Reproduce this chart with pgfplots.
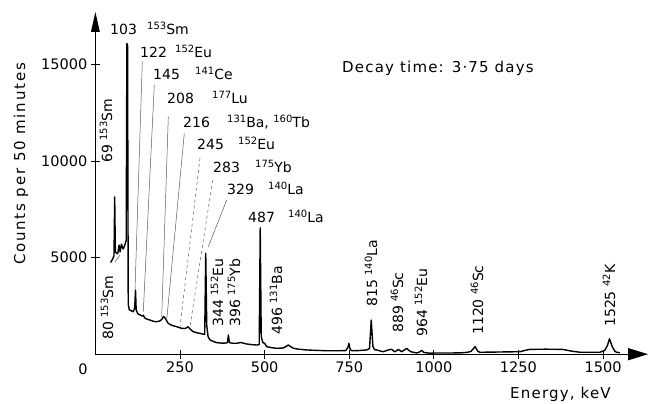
\documentclass[border=0pt]{standalone}
\usepackage{fontspec}
\setmainfont{DejaVu Sans}
\newfontfamily\spaced[LetterSpace=12]{DejaVu Sans}
\newfontfamily\spacedx[LetterSpace=8]{DejaVu Sans}
\usepackage{pgfplots}
\pgfplotsset{compat=1.18}
\usepackage{pgfplotstable}

% gamma spectrum, energy in keV, counts per 50 minutes
\pgfplotstableread{
kev counts
45 4750
50 4900
55 5100
57 8150
59 5300
62 5250
66 5200
70 5650
73 5300
77 5700
82 5450
86 5600
91 5900
93 16100
95 16000
97 2600
100 2300
106 2250
112 2200
116 2400
118.5 3320
120.5 2300
125 2100
132 2030
138 1980
141.5 2020
146 1870
155 1800
161 1770
172 1700
181 1680
190 1720
196 1800
201 1950
205 1900
209 1780
215 1600
225 1500
240 1425
255 1340
265 1330
274 1420
280 1300
289 1165
300 1110
309 1080
318 1040
323 1030
326 5230
329 1500
333 900
339 735
350 650
358 600
375 570
385 580
390 600
393 995
396 600
405 570
417 565
425 590
432 600
440 560
447 530
460 500
477 475
484 500
487 6550
490 900
495 600
500 565
506 390
520 340
536 305
555 320
565 420
570 475
576 400
585 305
600 260
624 220
650 200
683 180
723 180
740 190
746 350
749 565
752 300
756 190
762 180
780 190
802 220
810 300
815 1770
820 400
825 230
831 220
845 150
851 130
862 200
870 240
876 250
882 150
885 130
895 250
905 130
913 220
920 300
926 200
932 130
950 60
958 120
964 200
970 100
974 80
989 50
1000 60
1040 60
1080 70
1100 100
1110 150
1122 390
1130 150
1136 100
1180 110
1255 130
1270 200
1284 250
1330 260
1380 250
1410 150
1432 100
1491 100
1505 200
1513 450
1519 800
1527 400
1535 150
1540 100
1550 80
}\spectrum

\newcommand\pk{\fontsize{14}{16}\selectfont}
\newcommand\iso[1]{\raisebox{5pt}{\fontsize{10}{10}\selectfont #1}}

\begin{document}
\begin{tikzpicture}[x=1pt,y=1pt]
\begin{axis}[
    at={(95.4pt,49.8pt)}, anchor=south west,
    scale only axis, width=553pt, height=342.2pt,
    xmin=0, xmax=1634, ymin=0, ymax=17730,
    axis lines=left,
    axis line style={draw=none},
    xtick={250,500,...,1500},
    ytick={5000,10000,15000},
    scaled y ticks=false,
    tick align=center,
    major tick length=9pt,
    tick style={line width=0.8pt, black},
    ticklabel style={font=\fontsize{14.5}{16}\selectfont},
    /pgf/number format/assume math mode=true,
    /pgf/number format/1000 sep={},
    clip=false,
]
\addplot[black, line width=1.4pt, line join=round] table[x=kev, y=counts]{\spectrum};
\end{axis}

% axis lines with filled arrow heads
\draw[line width=1pt] (95.4,49.8) -- (634,49.8);
\fill (648,49.8) -- (628,56) -- (628,43.6) -- cycle;
\draw[line width=1pt] (95.4,49.8) -- (95.4,378);
\fill (95.4,392) -- (90.9,372) -- (99.9,372) -- cycle;

% axis titles and note
\node[rotate=90, anchor=base, inner sep=0] at (25,240) {\spaced\fontsize{15}{18}\selectfont Counts per 50 minutes};
\node[anchor=base west, inner sep=0] at (510,5) {\spacedx\fontsize{15}{18}\selectfont Energy, keV};
\node[anchor=base west, inner sep=0] at (342,331) {\spacedx\fontsize{15}{18}\selectfont Decay time: 3·75 days};
\node[inner sep=0] at (83,34.5) {\fontsize{14.5}{16}\selectfont 0};

% horizontal peak labels
\begin{scope}[every node/.style={anchor=base west, inner sep=0, font=\pk}]
\node at (110,369) {103}; \node at (147,369) {\iso{153}Sm};
\node at (140,346) {122}; \node at (175,346) {\iso{152}Eu};
\node at (153,324) {145}; \node at (195,324) {\iso{141}Ce};
\node at (167,300) {208}; \node at (212,300) {\iso{177}Lu};
\node at (183,276) {216}; \node at (227,276) {\iso{131}Ba, \iso{160}Tb};
\node at (197,254) {245}; \node at (238,254) {\iso{152}Eu};
\node at (213,231) {283}; \node at (255,231) {\iso{175}Yb};
\node at (227,209) {329}; \node at (268,209) {\iso{140}La};
\node at (248,181) {487}; \node at (288,181) {\iso{140}La};
\end{scope}

% vertical peak labels
\begin{scope}[every node/.style={anchor=base west, inner sep=0, rotate=90, font=\pk}]
\node at (112,241) {69 \iso{153}Sm};
\node at (113,64) {80 \iso{153}Sm};
\node at (223,77) {344 \iso{152}Eu};
\node at (240,77) {396 \iso{175}Yb};
\node at (282,69) {496 \iso{131}Ba};
\node at (377,97) {815 \iso{140}La};
\node at (403,71) {889 \iso{46}Sc};
\node at (427,67) {964 \iso{152}Eu};
\node at (483,69) {1120 \iso{46}Sc};
\node at (615,77) {1525 \iso{42}K};
\end{scope}

% leader lines
\begin{scope}[black!65, line width=0.5pt]
\draw (142.3,342.3) -- (135,114);
\draw (154.3,319) -- (143.3,92.3);
\draw (168.3,287.3) -- (161.7,87.3);
\draw (184.3,270.7) -- (166.7,84);
\draw[dashed] (200,246) -- (180,77.3);
\draw[dashed] (212.7,224) -- (190,77.3);
\draw (226.7,204) -- (208.3,157.3);
\draw (115,142) -- (120,149);
\end{scope}

\pgfresetboundingbox
\path[use as bounding box] (0,0) rectangle (653,404);
\end{tikzpicture}
\end{document}
